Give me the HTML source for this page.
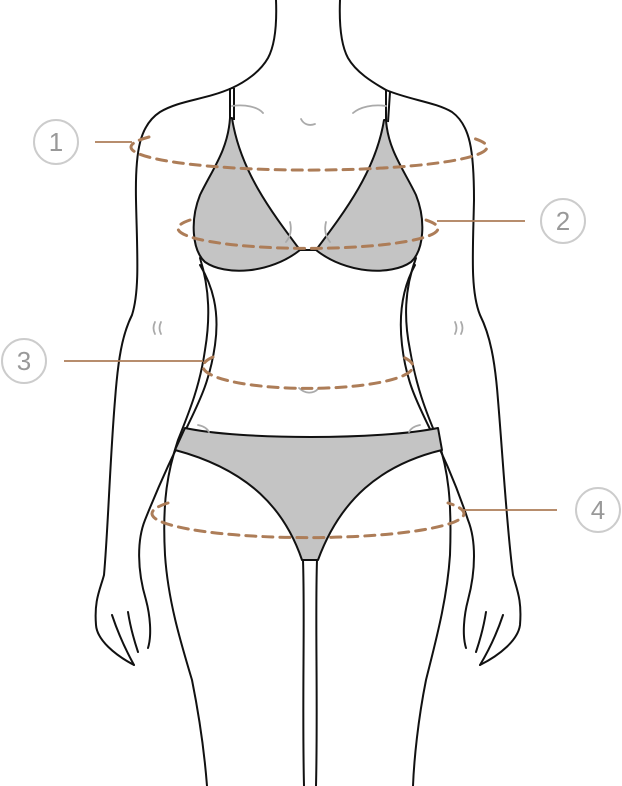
<!DOCTYPE html>
<html><head><meta charset="utf-8"><style>
html,body{margin:0;padding:0;background:#fff;}
svg{display:block;}
text{font-family:"Liberation Sans",sans-serif;font-weight:300;}
</style></head><body>
<svg width="622" height="786" viewBox="0 0 622 786" xmlns="http://www.w3.org/2000/svg">
<g fill="none" stroke="#111" stroke-width="2" stroke-linecap="round" stroke-linejoin="round">
<path d="M276 0 C277 25 275 45 268 58 C260 72 245 82 232 88"/>
<path d="M340 0 C339 25 341 45 348 58 C356 72 372 82 386 90"/>
<path d="M232 88 C205 100 180 100 160 112 C140 125 135 150 136 200 C137 250 140 290 132 315 C122 335 118 360 115 400 C110 460 108 530 104 575 C100 590 94 600 96 625 C97 640 115 655 134 665"/>
<path d="M112 615 C117 630 123 645 134 665"/>
<path d="M200 265 C212 285 220 310 215 345 C210 380 200 400 188 425 C170 460 157 490 145 520 C137 540 137 570 146 600 C150 615 152 635 148 648"/>
<path d="M128 612 C130 625 134 640 138 652"/>
<path d="M200 258 C210 290 210 320 205 350 C200 385 190 410 178 440 C168 470 162 500 165 555 C168 600 180 640 192 680 C200 720 205 760 207 786"/>
<path d="M386 90 C410 100 435 102 452 112 C470 125 474 150 474 200 C473 250 470 290 480 315 C490 335 495 360 498 400 C503 460 507 530 513 575 C517 590 522 600 520 625 C518 640 500 655 480 665"/>
<path d="M503 615 C498 630 492 645 480 665"/>
<path d="M415 265 C404 285 398 310 402 345 C406 380 416 400 428 425 C446 460 458 490 468 520 C476 540 476 570 468 600 C464 615 462 635 466 648"/>
<path d="M486 612 C484 625 480 640 476 652"/>
<path d="M416 258 C404 290 404 320 410 350 C416 385 425 410 438 440 C448 470 452 500 450 555 C447 600 436 640 426 680 C418 720 414 760 413 786"/>
<path d="M303 560 C305 620 302 700 304 786"/>
<path d="M317 560 C315 620 318 700 316 786"/>
</g>
<g fill="#c4c4c4" stroke="#111" stroke-width="2" stroke-linejoin="round">
<path d="M230 118 C228 150 212 170 200 195 C190 220 192 250 205 262 C225 276 270 274 300 250 C270 210 240 170 232 118 Z"/>
<path d="M386 120 C388 150 404 170 416 195 C426 220 424 250 411 262 C391 276 346 274 316 250 C346 210 376 170 384 120 Z"/>
<path d="M300 250 L316 250" />
<path d="M185 428 C240 440 380 440 438 428 L442 450 C380 465 340 500 318 560 L302 560 C285 510 250 470 175 450 Z"/>
</g>
<g fill="none" stroke="#111" stroke-width="2">
<path d="M230 88 L230 118 M234 88 L234 120"/>
<path d="M386 90 L386 120 M390 92 L388 122"/>
</g>
<g fill="none" stroke="#aaa" stroke-width="1.8" stroke-linecap="round">
<path d="M232 106 C245 104 258 107 263 113"/>
<path d="M386 106 C373 104 360 107 353 113"/>
<path d="M301 119 C304 125 310 126 315 124"/>
<path d="M290 222 C292 230 290 237 286 242"/>
<path d="M326 222 C324 230 326 237 330 242"/>
<path d="M155 322 C153 326 153 330 155 334 M161 322 C159 326 159 330 161 334"/>
<path d="M455 322 C457 326 457 330 455 334 M461 322 C463 326 463 330 461 334"/>
<path d="M299 388 C305 394 313 394 318 389"/>
<path d="M198 425 C203 426 207 428 209 432"/>
<path d="M420 425 C415 426 411 428 409 432"/>
</g>
<g fill="none" stroke="#ad7d58" stroke-width="3" stroke-dasharray="10 7" stroke-linecap="round">
<path d="M149 137 A178 23 0 1 0 469 137"/>
<path d="M190 220 A130 20 0 1 0 426 220"/>
<path d="M213 357 A105 22 0 1 0 403 357"/>
<path d="M168 503 A156 24 0 1 0 448 503"/>
</g>
<g stroke="#ad7d58" stroke-width="1.8">
<line x1="95" y1="142" x2="132" y2="142"/>
<line x1="437" y1="221" x2="525" y2="221"/>
<line x1="64" y1="361" x2="203" y2="361"/>
<line x1="463" y1="510" x2="557" y2="510"/>
</g>
<g fill="none" stroke="#ccc" stroke-width="2">
<circle cx="56" cy="142" r="22"/>
<circle cx="563" cy="221" r="22"/>
<circle cx="24" cy="361" r="22"/>
<circle cx="598" cy="510" r="22"/>
</g>
<g fill="#999" font-size="26" text-anchor="middle">
<text x="56" y="151">1</text>
<text x="563" y="230">2</text>
<text x="24" y="370">3</text>
<text x="598" y="519">4</text>
</g>
</svg>
</body></html>
